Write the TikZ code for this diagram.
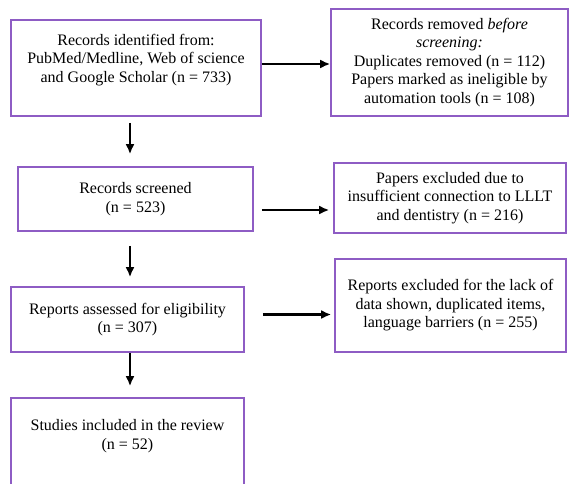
\documentclass[tikz,border=0pt]{standalone}
\usepackage{fontspec}
\setmainfont{Liberation Serif}
\usetikzlibrary{arrows.meta}
\definecolor{boxpurple}{RGB}{142,92,196}

\begin{document}
\begin{tikzpicture}[x=1pt, y=-1pt,
		every node/.style={font=\fontsize{16}{18.5}\selectfont, align=center},
		box/.style={draw=boxpurple, line width=1.6pt, inner sep=0pt},
		arr/.style={-{Latex[length=10pt,width=9pt]}, line width=2.5pt}]
			\clip (0,0) rectangle (570,483);

			% Nodes
			\node[box, minimum width=250pt, minimum height=96pt, text depth=20pt] (ident) at (136,68) {Records identified from:\\PubMed/Medline, Web of science\\and Google Scholar (n = 733)};
			\node[box, minimum width=237pt, minimum height=107pt] (removed) at (449.5,62.5) {Records removed \textit{before}\\\textit{screening:}\\Duplicates removed (n = 112)\\Papers marked as ineligible by\\automation tools (n = 108)};
			\node[box, minimum width=235pt, minimum height=64pt] (screened) at (135.5,199) {Records screened\\(n = 523)};
			\node[box, minimum width=232pt, minimum height=70pt] (excluded) at (450,198) {Papers excluded due to\\insufficient connection to LLLT\\and dentistry (n = 216)};
			\node[box, minimum width=233pt, minimum height=65pt] (assessed) at (127.5,319.5) {Reports assessed for eligibility\\(n = 307)};
			\node[box, minimum width=231pt, minimum height=93pt] (reportsout) at (450.5,305.5) {Reports excluded for the lack of\\data shown, duplicated items,\\language barriers (n = 255)};
			\node[box, minimum width=233pt, minimum height=110pt, text depth=37pt] (included) at (127.5,453) {Studies included in the review\\(n = 52)};

			% Links
			\draw[arr] ([yshift=4pt]ident.east) -- ([yshift=4pt]ident.east -| removed.west);
			\draw[arr, shorten <=8pt, shorten >=4pt] ([yshift=-11pt]screened.east) -- ([yshift=-11pt]screened.east -| excluded.west);
			\draw[arr, shorten <=18pt, shorten >=3pt] ([yshift=5pt]assessed.east) -- ([yshift=5pt]assessed.east -| reportsout.west);
			\draw[arr, shorten <=6pt, shorten >=12pt] ([xshift=-6pt]ident.south) -- ([xshift=-6pt]ident.south |- screened.north);
			\draw[arr, shorten <=14pt, shorten >=9pt] ([xshift=-5.5pt]screened.south) -- ([xshift=-5.5pt]screened.south |- assessed.north);
			\draw[arr, shorten >=11pt] ([xshift=2.5pt]assessed.south) -- ([xshift=2.5pt]assessed.south |- included.north);
		\end{tikzpicture}
\end{document}
